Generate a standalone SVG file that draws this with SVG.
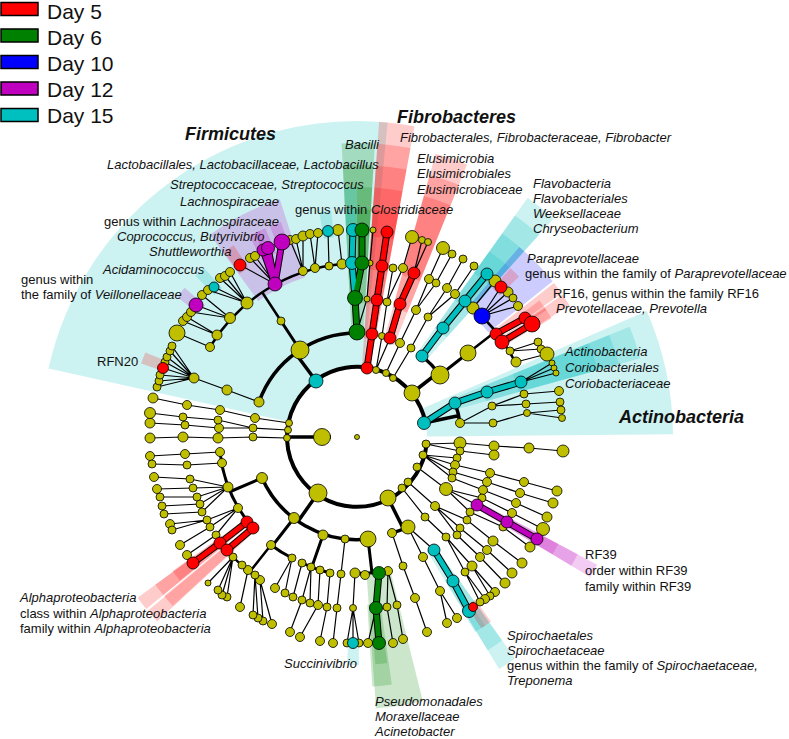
<svg xmlns="http://www.w3.org/2000/svg" width="789" height="739" viewBox="0 0 789 739">
<style>
.t{font-family:"Liberation Sans",Arial,sans-serif;fill:#111}
.l{font-size:13px}
.i{font-style:italic}
.b{font-size:18px;font-weight:bold;font-style:italic}
.g{font-size:21px}
.e{fill:none;stroke:#000;stroke-width:1.2}
.k1{fill:none;stroke:#000;stroke-width:4}
.k2{fill:none;stroke:#000;stroke-width:3.5}
.k3{fill:none;stroke:#000;stroke-width:3}
.k4{fill:none;stroke:#000;stroke-width:2.5}
.ul{fill:none;stroke:#000;stroke-width:7}
.bar{fill:none;stroke-width:5}
.w{fill:none;stroke-opacity:.2}
.n circle{fill:#BFBF00;stroke:#000;stroke-width:.8}
.n circle.r{fill:#FF0000}.n circle.gr{fill:#008000}.n circle.bl{fill:#0000FF}.n circle.m{fill:#BF00BF}.n circle.c{fill:#00BFBF}
.lg rect{stroke:#000;stroke-width:1.5}
</style>
<g id="shading">
<circle class="w" cx="357" cy="437" r="193" stroke="#00BFBF" stroke-width="246" stroke-dasharray="279.6 3000" transform="rotate(-167.5 357 437)"/>
<circle class="w" cx="357" cy="437" r="193" stroke="#00BFBF" stroke-width="246" stroke-dasharray="77.5 3000" transform="rotate(-23.5 357 437)"/>
<circle class="w" cx="357" cy="437" r="196.5" stroke="#00BFBF" stroke-width="195" stroke-dasharray="22.29 3000" transform="rotate(-22 357 437)"/>
<circle class="w" cx="357" cy="437" r="203" stroke="#00BFBF" stroke-width="138" stroke-dasharray="23.03 3000" transform="rotate(-22 357 437)"/>
<circle class="w" cx="357" cy="437" r="209" stroke="#00BFBF" stroke-width="82" stroke-dasharray="23.71 3000" transform="rotate(-22 357 437)"/>
<circle class="w" cx="357" cy="437" r="193" stroke="#FF0000" stroke-width="246" stroke-dasharray="21.9 3000" transform="rotate(-86 357 437)"/>
<circle class="w" cx="357" cy="437" r="196.5" stroke="#FF0000" stroke-width="195" stroke-dasharray="22.29 3000" transform="rotate(-86 357 437)"/>
<circle class="w" cx="357" cy="437" r="203" stroke="#FF0000" stroke-width="138" stroke-dasharray="23.03 3000" transform="rotate(-86 357 437)"/>
<circle class="w" cx="357" cy="437" r="209" stroke="#FF0000" stroke-width="82" stroke-dasharray="23.71 3000" transform="rotate(-86 357 437)"/>
<circle class="w" cx="357" cy="437" r="214.5" stroke="#FF0000" stroke-width="27" stroke-dasharray="24.33 3000" transform="rotate(-86 357 437)"/>
<circle class="w" cx="357" cy="437" r="196.5" stroke="#008000" stroke-width="195" stroke-dasharray="22.29 3000" transform="rotate(-93 357 437)"/>
<circle class="w" cx="357" cy="437" r="203" stroke="#008000" stroke-width="138" stroke-dasharray="23.03 3000" transform="rotate(-93 357 437)"/>
<circle class="w" cx="357" cy="437" r="209" stroke="#008000" stroke-width="82" stroke-dasharray="12.77 3000" transform="rotate(-90 357 437)"/>
<circle class="w" cx="357" cy="437" r="214.5" stroke="#008000" stroke-width="27" stroke-dasharray="13.1 3000" transform="rotate(-90 357 437)"/>
<circle class="w" cx="357" cy="437" r="209" stroke="#00BFBF" stroke-width="82" stroke-dasharray="10.94 3000" transform="rotate(-93 357 437)"/>
<circle class="w" cx="357" cy="437" r="214.5" stroke="#00BFBF" stroke-width="27" stroke-dasharray="11.23 3000" transform="rotate(-93 357 437)"/>
<circle class="w" cx="357" cy="437" r="214.5" stroke="#00BFBF" stroke-width="27" stroke-dasharray="11.23 3000" transform="rotate(-99.5 357 437)"/>
<circle class="w" cx="357" cy="437" r="196.5" stroke="#FF0000" stroke-width="195" stroke-dasharray="22.29 3000" transform="rotate(-74.5 357 437)"/>
<circle class="w" cx="357" cy="437" r="203" stroke="#FF0000" stroke-width="138" stroke-dasharray="23.03 3000" transform="rotate(-74.5 357 437)"/>
<circle class="w" cx="357" cy="437" r="209" stroke="#FF0000" stroke-width="82" stroke-dasharray="23.71 3000" transform="rotate(-74.5 357 437)"/>
<circle class="w" cx="357" cy="437" r="196.5" stroke="#00BFBF" stroke-width="195" stroke-dasharray="22.29 3000" transform="rotate(-54.5 357 437)"/>
<circle class="w" cx="357" cy="437" r="203" stroke="#00BFBF" stroke-width="138" stroke-dasharray="23.03 3000" transform="rotate(-54.5 357 437)"/>
<circle class="w" cx="357" cy="437" r="209" stroke="#00BFBF" stroke-width="82" stroke-dasharray="23.71 3000" transform="rotate(-54.5 357 437)"/>
<circle class="w" cx="357" cy="437" r="214.5" stroke="#00BFBF" stroke-width="27" stroke-dasharray="24.33 3000" transform="rotate(-54.5 357 437)"/>
<circle class="w" cx="357" cy="437" r="209" stroke="#0000FF" stroke-width="82" stroke-dasharray="40.13 3000" transform="rotate(-49.5 357 437)"/>
<circle class="w" cx="357" cy="437" r="214.5" stroke="#FF0000" stroke-width="27" stroke-dasharray="11.23 3000" transform="rotate(-47.7 357 437)"/>
<circle class="w" cx="357" cy="437" r="209" stroke="#FF0000" stroke-width="82" stroke-dasharray="10.94 3000" transform="rotate(-38 357 437)"/>
<circle class="w" cx="357" cy="437" r="214.5" stroke="#FF0000" stroke-width="27" stroke-dasharray="11.23 3000" transform="rotate(-36.8 357 437)"/>
<circle class="w" cx="357" cy="437" r="209" stroke="#FF0000" stroke-width="82" stroke-dasharray="10.94 3000" transform="rotate(-34.7 357 437)"/>
<circle class="w" cx="357" cy="437" r="214.5" stroke="#FF0000" stroke-width="27" stroke-dasharray="11.23 3000" transform="rotate(-34.4 357 437)"/>
<circle class="w" cx="357" cy="437" r="203" stroke="#BF00BF" stroke-width="138" stroke-dasharray="10.63 3000" transform="rotate(28 357 437)"/>
<circle class="w" cx="357" cy="437" r="209" stroke="#BF00BF" stroke-width="82" stroke-dasharray="10.94 3000" transform="rotate(28 357 437)"/>
<circle class="w" cx="357" cy="437" r="214.5" stroke="#BF00BF" stroke-width="27" stroke-dasharray="11.23 3000" transform="rotate(28 357 437)"/>
<circle class="w" cx="357" cy="437" r="203" stroke="#00BFBF" stroke-width="138" stroke-dasharray="14.17 3000" transform="rotate(54.5 357 437)"/>
<circle class="w" cx="357" cy="437" r="209" stroke="#00BFBF" stroke-width="82" stroke-dasharray="14.59 3000" transform="rotate(54.5 357 437)"/>
<circle class="w" cx="357" cy="437" r="214.5" stroke="#00BFBF" stroke-width="27" stroke-dasharray="11.23 3000" transform="rotate(55.8 357 437)"/>
<circle class="w" cx="357" cy="437" r="214.5" stroke="#FF0000" stroke-width="27" stroke-dasharray="11.23 3000" transform="rotate(54 357 437)"/>
<circle class="w" cx="357" cy="437" r="203" stroke="#008000" stroke-width="138" stroke-dasharray="35.43 3000" transform="rotate(76 357 437)"/>
<circle class="w" cx="357" cy="437" r="209" stroke="#008000" stroke-width="82" stroke-dasharray="16.41 3000" transform="rotate(82 357 437)"/>
<circle class="w" cx="357" cy="437" r="214.5" stroke="#008000" stroke-width="27" stroke-dasharray="11.23 3000" transform="rotate(82.4 357 437)"/>
<circle class="w" cx="357" cy="437" r="214.5" stroke="#00BFBF" stroke-width="27" stroke-dasharray="11.23 3000" transform="rotate(89.5 357 437)"/>
<circle class="w" cx="357" cy="437" r="203" stroke="#FF0000" stroke-width="138" stroke-dasharray="10.63 3000" transform="rotate(140.8 357 437)"/>
<circle class="w" cx="357" cy="437" r="203" stroke="#FF0000" stroke-width="138" stroke-dasharray="10.63 3000" transform="rotate(137.3 357 437)"/>
<circle class="w" cx="357" cy="437" r="209" stroke="#FF0000" stroke-width="82" stroke-dasharray="10.94 3000" transform="rotate(140.8 357 437)"/>
<circle class="w" cx="357" cy="437" r="209" stroke="#FF0000" stroke-width="82" stroke-dasharray="10.94 3000" transform="rotate(137.5 357 437)"/>
<circle class="w" cx="357" cy="437" r="214.5" stroke="#FF0000" stroke-width="27" stroke-dasharray="11.23 3000" transform="rotate(141 357 437)"/>
<circle class="w" cx="357" cy="437" r="209" stroke="#BF00BF" stroke-width="82" stroke-dasharray="65.66 3000" transform="rotate(-126 357 437)"/>
<circle class="w" cx="357" cy="437" r="214.5" stroke="#BF00BF" stroke-width="27" stroke-dasharray="11.23 3000" transform="rotate(-118.2 357 437)"/>
<circle class="w" cx="357" cy="437" r="214.5" stroke="#BF00BF" stroke-width="27" stroke-dasharray="11.23 3000" transform="rotate(-116.7 357 437)"/>
<circle class="w" cx="357" cy="437" r="214.5" stroke="#BF00BF" stroke-width="27" stroke-dasharray="11.23 3000" transform="rotate(-112.5 357 437)"/>
<circle class="w" cx="357" cy="437" r="214.5" stroke="#FF0000" stroke-width="27" stroke-dasharray="11.23 3000" transform="rotate(-125.7 357 437)"/>
<circle class="w" cx="357" cy="437" r="214.5" stroke="#00BFBF" stroke-width="27" stroke-dasharray="11.23 3000" transform="rotate(-135.1 357 437)"/>
<circle class="w" cx="357" cy="437" r="214.5" stroke="#BF00BF" stroke-width="27" stroke-dasharray="11.23 3000" transform="rotate(-142.1 357 437)"/>
<circle class="w" cx="357" cy="437" r="214.5" stroke="#FF0000" stroke-width="27" stroke-dasharray="11.23 3000" transform="rotate(-161.2 357 437)"/>
</g>
<g id="connectors">
<path class="e" d="M521 382L552 363M521 382L554 368M521 382L556 373M460 423L492 406M460 423L493 423M492 406L524 394L559 391M492 406L526 404L560 402M493 423L527 413L561 410M527 413L562 418M426 444L460 443L494 446L529 448L563 451M426 444L460 451L494 455M423 455L457 458M423 455L455 465L490 473L524 482L557 491M423 455L453 472L487 482L520 493L553 503M423 455L452 478L483 490L516 503L547 517M417 467L446 489L482 498L512 513L543 529M446 489L470 512L503 527L530 547M446 489L477 505M408 482L435 506L467 520L493 541L522 563M435 506L460 528L487 550L512 573M435 506L457 535L480 557L505 583M402 488L425 517L446 537L472 566L495 592M472 566L490 596M446 537L465 572L485 599M465 572L480 602M408 527L434 550M408 527L423 557L440 591L457 618M440 591L447 623M392 533L403 566L415 598L427 632M388 571L387 607L393 643M388 571L397 605L403 639M376 608L368 643M355 573L353 608L347 643M353 608L353 643M353 608L359 643M345 539L341 574L337 608L333 643M330 573L327 607L320 641M320 570L318 605L300 637M311 567L310 603M311 567L302 600L290 632M302 563L293 597M292 558L285 593M292 558L275 588M260 580L272 624M260 580L263 621M255 575L258 618M255 575L253 615M248 570L240 607M233 557L227 597M233 557L222 595M233 557L218 590M233 557L208 583M220 452L185 454L150 456M222 463L187 465L152 464M228 487L190 479L154 477M228 487L193 488L157 489M228 487L197 497L160 497M228 487L200 504L162 506M228 487L202 512L164 514M238 508L207 520L170 524M207 520L172 530M238 508L210 527L180 545M238 508L216 535L187 555M287 438L253 437L218 438L183 437L150 438M288 430L253 428L219 428L185 425L150 423M253 428L218 420L183 417L150 413M289 423L255 418L220 410L187 405L153 398M259 402L227 390L194 378M194 378L157 387M194 378L159 381M194 378L160 375M194 378L163 368M194 378L165 362M194 378L167 357M194 378L170 351M194 378L172 346M210 347L177 333M217 335L183 321M217 335L187 317M230 318L191 312M230 318L196 305M230 318L202 295M247 303L208 290M247 303L214 287M247 303L220 278M247 303L225 276M247 303L230 272M275 284L240 265M275 284L250 258M275 284L255 256M303 271L290 240M303 271L296 239M303 271L303 236M315 268L310 234M315 268L318 233M329 266L328 231M342 264L338 230M357 332L367 299L370 263L373 230M376 370L382 336L387 302L393 268M387 302L403 268L412 237M376 370L390 338M414 273L422 240M414 273L428 242M386 373L400 343L416 310L429 279L443 248M416 310L436 283L452 254M393 378L411 348L428 317L447 288L463 259M428 317L455 294L474 266M473 308L495 281M482 316L501 287M482 316L508 292M482 316L513 298M482 316L518 306M510 351L538 342M510 351L541 349M516 362L547 354"/>
<path class="k1" d="M426.6 444.1A70 70 0 1 1 425.5 422.5"/>
<path class="k2" d="M331 437L287 437M424 423L457 416M455 403A104 104 0 0 1 460 423M388 498L403 528M408 527A104 104 0 0 1 392 533M318 493L299 520M368 539A104 104 0 0 1 262 478M316 381L296 354M259 402A104 104 0 0 1 357 333M412 393L439 372M422 356A104 104 0 0 1 440 375"/>
<path class="k3" d="M368 539L372 573M388 571A139 139 0 0 1 355 573M323 535L311.5 568M330 573A139 139 0 0 1 302 563M294 518L273 545M292 558A139 139 0 0 1 271 545M262 478L229.3 492M253 528A139 139 0 0 1 220 452M300 350L281 321M440 375L468 353"/>
<path class="k4" d="M271 545L250 571.5M260 580A173 173 0 0 1 233 557M281 321L262 292M210 347A173 173 0 0 1 342 264M468 353L495 332M473 308A173 173 0 0 1 516 364"/>
<path class="ul" d="M424 423L455 403L487 392L521 382M422 356L443 328L465 301L487 274M434 550L453 581L469 611M355 298L352 263L353 230M367 368L372 334L377 300L382 266L387 232M390 338L400 304L414 273M496 334L525 318M502 342L532 324M247 522L220 543L193 563M253 528L227 550M357 332L355 298L362 263L362 230M379 573L376 608L379 643M477 505L507 522L537 539M275 284L263 250M275 284L268 248M275 284L282 242"/>
<path class="bar" stroke="#00BFBF" d="M424 423L455 403L487 392L521 382M422 356L443 328L465 301L487 274M434 550L453 581L469 611M355 298L352 263L353 230"/>
<path class="bar" stroke="#FF0000" d="M367 368L372 334L377 300L382 266L387 232M390 338L400 304L414 273M496 334L525 318M502 342L532 324M247 522L220 543L193 563M253 528L227 550"/>
<path class="bar" stroke="#008000" d="M357 332L355 298L362 263L362 230M379 573L376 608L379 643"/>
<path class="bar" stroke="#BF00BF" d="M477 505L507 522L537 539M275 284L263 250M275 284L268 248M275 284L282 242"/>
</g>
<g id="root" class="n"><circle cx="357" cy="437" r="2.5"/><circle cx="322" cy="437" r="8.5"/></g>
<g id="actinobacteria" class="n">
<circle cx="460" cy="423" r="4.5"/><circle cx="492" cy="406" r="4"/><circle cx="493" cy="423" r="4"/><circle cx="524" cy="394" r="4"/><circle cx="526" cy="404" r="4"/><circle cx="527" cy="413" r="3.5"/><circle cx="559" cy="391" r="4.5"/><circle cx="560" cy="402" r="4"/><circle cx="561" cy="410" r="4"/><circle cx="562" cy="418" r="3.5"/><circle cx="552" cy="363" r="3"/><circle cx="554" cy="368" r="3"/><circle cx="556" cy="373" r="3"/>
<circle class="c" cx="424" cy="423" r="6.5"/><circle class="c" cx="455" cy="403" r="6"/><circle class="c" cx="487" cy="392" r="6"/><circle class="c" cx="521" cy="382" r="6"/>
</g>
<g id="phyla-right" class="n">
<circle cx="426" cy="444" r="4"/><circle cx="460" cy="443" r="6"/><circle cx="494" cy="446" r="5"/><circle cx="529" cy="448" r="5"/><circle cx="563" cy="451" r="6"/><circle cx="460" cy="451" r="4"/><circle cx="494" cy="455" r="5"/>
<circle cx="423" cy="455" r="4"/><circle cx="457" cy="458" r="4"/><circle cx="455" cy="465" r="4.5"/><circle cx="490" cy="473" r="4.5"/><circle cx="524" cy="482" r="4.5"/><circle cx="557" cy="491" r="5"/><circle cx="453" cy="472" r="4"/><circle cx="487" cy="482" r="4.5"/><circle cx="520" cy="493" r="4.5"/><circle cx="553" cy="503" r="5"/><circle cx="452" cy="478" r="4"/><circle cx="483" cy="490" r="4.5"/><circle cx="516" cy="503" r="4.5"/><circle cx="547" cy="517" r="5"/>
<circle cx="417" cy="467" r="4"/><circle cx="446" cy="489" r="6.5"/><circle cx="482" cy="498" r="4"/><circle cx="512" cy="513" r="4.5"/><circle cx="543" cy="529" r="6.5"/><circle cx="470" cy="512" r="4"/><circle cx="503" cy="527" r="4"/><circle cx="530" cy="547" r="5"/>
<circle class="m" cx="477" cy="505" r="6"/><circle class="m" cx="507" cy="522" r="6"/><circle class="m" cx="537" cy="539" r="6"/>
<circle cx="408" cy="482" r="4"/><circle cx="435" cy="506" r="4.5"/><circle cx="467" cy="520" r="4"/><circle cx="493" cy="541" r="5"/><circle cx="522" cy="563" r="5"/><circle cx="460" cy="528" r="4"/><circle cx="487" cy="550" r="4.5"/><circle cx="512" cy="573" r="5"/><circle cx="457" cy="535" r="4"/><circle cx="480" cy="557" r="4.5"/><circle cx="505" cy="583" r="5"/>
<circle cx="402" cy="488" r="4"/><circle cx="425" cy="517" r="4"/><circle cx="446" cy="537" r="4"/><circle cx="472" cy="566" r="5"/><circle cx="495" cy="592" r="4.5"/><circle cx="490" cy="596" r="4"/><circle cx="465" cy="572" r="4"/><circle cx="485" cy="599" r="4.5"/><circle cx="480" cy="602" r="4"/>
<circle cx="388" cy="498" r="8"/><circle cx="408" cy="527" r="7"/><circle cx="423" cy="557" r="4.5"/><circle cx="440" cy="591" r="4.5"/><circle cx="457" cy="618" r="4.5"/><circle cx="447" cy="623" r="4.5"/><circle cx="392" cy="533" r="4.5"/><circle cx="403" cy="566" r="4"/><circle cx="415" cy="598" r="4.5"/><circle cx="427" cy="632" r="4.5"/>
<circle class="c" cx="434" cy="550" r="6"/><circle class="c" cx="453" cy="581" r="6"/><circle class="c" cx="469" cy="611" r="6.5"/><circle class="r" cx="473" cy="607" r="4.5"/>
</g>
<g id="proteobacteria" class="n">
<circle cx="318" cy="493" r="9"/><circle cx="368" cy="539" r="8"/><circle cx="345" cy="539" r="4"/><circle cx="323" cy="535" r="5"/><circle cx="294" cy="518" r="5.5"/><circle cx="262" cy="478" r="5.5"/>
<circle cx="388" cy="571" r="4.5"/><circle cx="387" cy="607" r="4"/><circle cx="393" cy="643" r="4.5"/><circle cx="397" cy="605" r="4"/><circle cx="403" cy="639" r="4.5"/><circle cx="368" cy="643" r="4.5"/><circle cx="365" cy="575" r="4.5"/><circle cx="355" cy="573" r="5"/><circle cx="353" cy="608" r="3.5"/><circle cx="347" cy="643" r="4"/><circle cx="359" cy="643" r="4"/>
<circle cx="341" cy="574" r="4"/><circle cx="337" cy="608" r="4"/><circle cx="333" cy="643" r="4.5"/>
<circle cx="330" cy="573" r="4"/><circle cx="327" cy="607" r="4"/><circle cx="320" cy="641" r="4.5"/><circle cx="320" cy="570" r="4"/><circle cx="318" cy="605" r="4.5"/><circle cx="300" cy="637" r="4.5"/><circle cx="311" cy="567" r="4"/><circle cx="310" cy="603" r="4"/><circle cx="302" cy="600" r="4"/><circle cx="290" cy="632" r="4.5"/><circle cx="302" cy="563" r="4"/><circle cx="293" cy="597" r="4"/>
<circle cx="292" cy="558" r="4"/><circle cx="285" cy="593" r="4"/><circle cx="275" cy="588" r="4.5"/><circle cx="271" cy="545" r="4.5"/><circle cx="260" cy="580" r="4.5"/><circle cx="255" cy="575" r="4"/><circle cx="248" cy="570" r="4.5"/><circle cx="242" cy="565" r="4"/><circle cx="233" cy="557" r="4"/>
<circle cx="272" cy="624" r="4.5"/><circle cx="263" cy="621" r="4"/><circle cx="258" cy="618" r="4"/><circle cx="253" cy="615" r="4"/><circle cx="240" cy="607" r="4.5"/><circle cx="227" cy="597" r="4"/><circle cx="222" cy="595" r="4"/><circle cx="218" cy="590" r="4"/><circle cx="208" cy="583" r="3"/>
<circle cx="220" cy="452" r="4.5"/><circle cx="185" cy="454" r="4.5"/><circle cx="150" cy="456" r="4.5"/><circle cx="222" cy="463" r="4.5"/><circle cx="187" cy="465" r="4"/><circle cx="152" cy="464" r="4"/><circle cx="228" cy="487" r="5"/><circle cx="190" cy="479" r="4"/><circle cx="193" cy="488" r="4"/><circle cx="197" cy="497" r="4"/><circle cx="200" cy="504" r="4"/><circle cx="202" cy="512" r="4"/><circle cx="154" cy="477" r="4.5"/><circle cx="157" cy="489" r="4.5"/><circle cx="160" cy="497" r="4"/><circle cx="162" cy="506" r="4"/><circle cx="164" cy="514" r="4"/><circle cx="238" cy="508" r="4.5"/><circle cx="207" cy="520" r="4"/><circle cx="210" cy="527" r="4"/><circle cx="216" cy="535" r="4"/><circle cx="170" cy="524" r="4.5"/><circle cx="172" cy="530" r="4"/><circle cx="180" cy="545" r="4.5"/><circle cx="187" cy="555" r="4.5"/>
<circle class="gr" cx="379" cy="573" r="6.5"/><circle class="gr" cx="376" cy="608" r="6.5"/><circle class="gr" cx="379" cy="643" r="6.5"/><circle class="c" cx="353" cy="643" r="5.5"/>
<circle class="r" cx="247" cy="522" r="6"/><circle class="r" cx="253" cy="528" r="6"/><circle class="r" cx="220" cy="543" r="6"/><circle class="r" cx="227" cy="550" r="6"/><circle class="r" cx="193" cy="563" r="6"/>
</g>
<g id="phyla-left" class="n">
<circle cx="287" cy="438" r="3.5"/><circle cx="253" cy="437" r="4"/><circle cx="218" cy="438" r="5"/><circle cx="183" cy="437" r="5"/><circle cx="150" cy="438" r="5"/>
<circle cx="288" cy="430" r="3.5"/><circle cx="253" cy="428" r="4"/><circle cx="219" cy="428" r="4.5"/><circle cx="185" cy="425" r="4"/><circle cx="150" cy="423" r="5"/><circle cx="218" cy="420" r="4"/><circle cx="183" cy="417" r="4"/><circle cx="150" cy="413" r="5.5"/>
<circle cx="289" cy="423" r="3.5"/><circle cx="255" cy="418" r="4.5"/><circle cx="220" cy="410" r="4.5"/><circle cx="187" cy="405" r="4.5"/><circle cx="153" cy="398" r="5"/>
</g>
<g id="firmicutes" class="n">
<circle cx="259" cy="402" r="5"/><circle cx="227" cy="390" r="5"/><circle cx="194" cy="378" r="5"/>
<circle cx="157" cy="387" r="4"/><circle cx="159" cy="381" r="4"/><circle cx="160" cy="375" r="4"/><circle cx="165" cy="362" r="4"/><circle cx="167" cy="357" r="4"/><circle cx="170" cy="351" r="4"/><circle cx="172" cy="346" r="4"/><circle class="r" cx="163" cy="368" r="5.5"/>
<circle cx="300" cy="350" r="9"/><circle cx="281" cy="321" r="4"/>
<circle cx="210" cy="347" r="4.5"/><circle cx="217" cy="335" r="5"/><circle cx="230" cy="318" r="5.5"/><circle cx="247" cy="303" r="6"/><circle cx="303" cy="271" r="4.5"/><circle cx="315" cy="268" r="4.5"/><circle cx="329" cy="266" r="4"/><circle cx="342" cy="264" r="5"/>
<circle cx="177" cy="333" r="8"/><circle cx="183" cy="321" r="4.5"/><circle cx="187" cy="317" r="4.5"/><circle cx="191" cy="312" r="4.5"/><circle cx="202" cy="295" r="4.5"/><circle cx="208" cy="290" r="4.5"/><circle cx="220" cy="278" r="4.5"/><circle cx="225" cy="276" r="4.5"/><circle cx="230" cy="272" r="4.5"/><circle cx="250" cy="258" r="4.5"/><circle cx="255" cy="256" r="4.5"/><circle cx="290" cy="240" r="4.5"/><circle cx="296" cy="239" r="4.5"/><circle cx="303" cy="236" r="5"/><circle cx="310" cy="234" r="4.5"/><circle cx="318" cy="233" r="4.5"/><circle cx="338" cy="230" r="5.5"/>
<circle cx="367" cy="299" r="3"/><circle cx="370" cy="263" r="3"/><circle cx="373" cy="230" r="3"/>
<circle class="m" cx="196" cy="305" r="7"/><circle class="c" cx="214" cy="287" r="5"/><circle class="r" cx="240" cy="265" r="6"/><circle class="m" cx="275" cy="284" r="7"/><circle class="m" cx="263" cy="250" r="6"/><circle class="m" cx="268" cy="248" r="6.5"/><circle class="m" cx="282" cy="242" r="8"/><circle class="c" cx="328" cy="231" r="5.5"/>
<circle class="gr" cx="357" cy="332" r="8"/><circle class="gr" cx="355" cy="298" r="7.5"/><circle class="c" cx="352" cy="263" r="6.5"/><circle class="gr" cx="362" cy="263" r="7"/><circle class="c" cx="353" cy="230" r="6.5"/><circle class="gr" cx="362" cy="230" r="7"/>
<circle class="c" cx="316" cy="381" r="7"/>
</g>
<g id="fibrobacteres" class="n"><circle class="r" cx="367" cy="368" r="6"/><circle class="r" cx="372" cy="334" r="6"/><circle class="r" cx="377" cy="300" r="6"/><circle class="r" cx="382" cy="266" r="6"/><circle class="r" cx="387" cy="232" r="6"/></g>
<g id="phyla-top" class="n">
<circle cx="376" cy="370" r="3.5"/><circle cx="382" cy="336" r="3.5"/><circle cx="387" cy="302" r="4"/><circle cx="393" cy="268" r="4"/><circle cx="403" cy="268" r="4.5"/><circle cx="412" cy="237" r="6.5"/><circle cx="422" cy="240" r="3.5"/><circle cx="428" cy="242" r="3.5"/>
<circle class="r" cx="390" cy="338" r="6"/><circle class="r" cx="400" cy="304" r="6"/><circle class="r" cx="414" cy="273" r="6"/>
<circle cx="386" cy="373" r="3.5"/><circle cx="400" cy="343" r="4.5"/><circle cx="416" cy="310" r="4.5"/><circle cx="429" cy="279" r="4.5"/><circle cx="443" cy="248" r="6.5"/><circle cx="436" cy="283" r="4"/><circle cx="452" cy="254" r="4"/>
<circle cx="393" cy="378" r="3.5"/><circle cx="411" cy="348" r="4"/><circle cx="428" cy="317" r="4"/><circle cx="447" cy="288" r="4.5"/><circle cx="463" cy="259" r="4"/><circle cx="455" cy="294" r="4.5"/><circle cx="474" cy="266" r="4"/>
</g>
<g id="bacteroidetes" class="n">
<circle cx="412" cy="393" r="8"/><circle cx="440" cy="375" r="9"/><circle cx="468" cy="353" r="8"/><circle cx="473" cy="308" r="6"/><circle cx="510" cy="351" r="4"/><circle cx="516" cy="362" r="5"/><circle cx="495" cy="281" r="6"/><circle cx="508" cy="292" r="5"/><circle cx="513" cy="298" r="4"/><circle cx="518" cy="306" r="4.5"/><circle cx="538" cy="342" r="4"/><circle cx="541" cy="349" r="4"/><circle cx="547" cy="354" r="7"/>
<circle class="c" cx="422" cy="356" r="6"/><circle class="c" cx="443" cy="328" r="6"/><circle class="c" cx="465" cy="301" r="6"/><circle class="c" cx="487" cy="274" r="6"/>
<circle class="bl" cx="482" cy="316" r="8"/><circle class="r" cx="496" cy="334" r="6"/><circle class="r" cx="502" cy="342" r="7"/><circle class="r" cx="501" cy="287" r="6"/><circle class="r" cx="525" cy="318" r="6"/><circle class="r" cx="532" cy="324" r="8"/>
</g>
<g id="labels" class="t">
<text class="b" x="397" y="123">Fibrobacteres</text>
<text class="l i" x="400" y="142">Fibrobacterales, Fibrobacteraceae, Fibrobacter</text>
<text class="b" x="185" y="140">Firmicutes</text>
<text class="b" x="619" y="423">Actinobacteria</text>
<text class="l i" x="345" y="149">Bacilli</text>
<text class="l i" x="107" y="169">Lactobacillales, Lactobacillaceae, Lactobacillus</text>
<text class="l i" x="170" y="189">Streptococcaceae, Streptococcus</text>
<text class="l i" x="180" y="206">Lachnospiraceae</text>
<text class="l" x="104" y="226">genus within <tspan class="i">Lachnospiraceae</tspan></text>
<text class="l i" x="117" y="241">Coprococcus, Butyrivibrio</text>
<text class="l i" x="149" y="256">Shuttleworthia</text>
<text class="l i" x="103" y="274">Acidaminococcus</text>
<text class="l" x="21" y="284">genus within</text>
<text class="l" x="21" y="299">the family of <tspan class="i">Veillonellaceae</tspan></text>
<text class="l" x="97" y="366">RFN20</text>
<text class="l" x="295" y="214">genus within <tspan class="i">Clostridiaceae</tspan></text>
<text class="l i" x="417" y="162.5">Elusimicrobia</text>
<text class="l i" x="417" y="178">Elusimicrobiales</text>
<text class="l i" x="417" y="194">Elusimicrobiaceae</text>
<text class="l i" x="533" y="187.5">Flavobacteria</text>
<text class="l i" x="533" y="202.5">Flavobacteriales</text>
<text class="l i" x="533" y="217.5">Weeksellaceae</text>
<text class="l i" x="533" y="232.5">Chryseobacterium</text>
<text class="l i" x="527" y="262.5">Paraprevotellaceae</text>
<text class="l" x="525" y="277.5">genus within the family of <tspan class="i">Paraprevotellaceae</tspan></text>
<text class="l" x="553" y="297.5">RF16, genus within the family RF16</text>
<text class="l i" x="556" y="312.5">Prevotellaceae, Prevotella</text>
<text class="l i" x="565" y="356">Actinobacteria</text>
<text class="l i" x="565" y="372">Coriobacteriales</text>
<text class="l i" x="565" y="387.5">Coriobacteriaceae</text>
<text class="l" x="585" y="559">RF39</text>
<text class="l" x="585" y="574.5">order within RF39</text>
<text class="l" x="585" y="590.5">family within RF39</text>
<text class="l i" x="507" y="639.5">Spirochaetales</text>
<text class="l i" x="507" y="654.5">Spirochaetaceae</text>
<text class="l" x="507" y="669.5">genus within the family of <tspan class="i">Spirochaetaceae,</tspan></text>
<text class="l i" x="507" y="685">Treponema</text>
<text class="l i" x="375" y="705.5">Pseudomonadales</text>
<text class="l i" x="375" y="721">Moraxellaceae</text>
<text class="l i" x="375" y="735.5">Acinetobacter</text>
<text class="l i" x="284" y="667.5">Succinivibrio</text>
<text class="l i" x="20" y="602">Alphaproteobacteria</text>
<text class="l" x="20" y="617.5">class within <tspan class="i">Alphaproteobacteria</tspan></text>
<text class="l" x="20" y="633">family within <tspan class="i">Alphaproteobacteria</tspan></text>
</g>
<g id="legend" class="lg">
<rect x="1" y="2.5" width="37" height="13" fill="#FF0000"/>
<rect x="1" y="29" width="37" height="13" fill="#008000"/>
<rect x="1" y="55.5" width="37" height="13" fill="#0000FF"/>
<rect x="1" y="82" width="37" height="13" fill="#BF00BF"/>
<rect x="1" y="108.5" width="37" height="13" fill="#00BFBF"/>
<text class="t g" x="47" y="19">Day 5</text>
<text class="t g" x="47" y="45">Day 6</text>
<text class="t g" x="47" y="71">Day 10</text>
<text class="t g" x="47" y="97">Day 12</text>
<text class="t g" x="47" y="123">Day 15</text>
</g>
</svg>
